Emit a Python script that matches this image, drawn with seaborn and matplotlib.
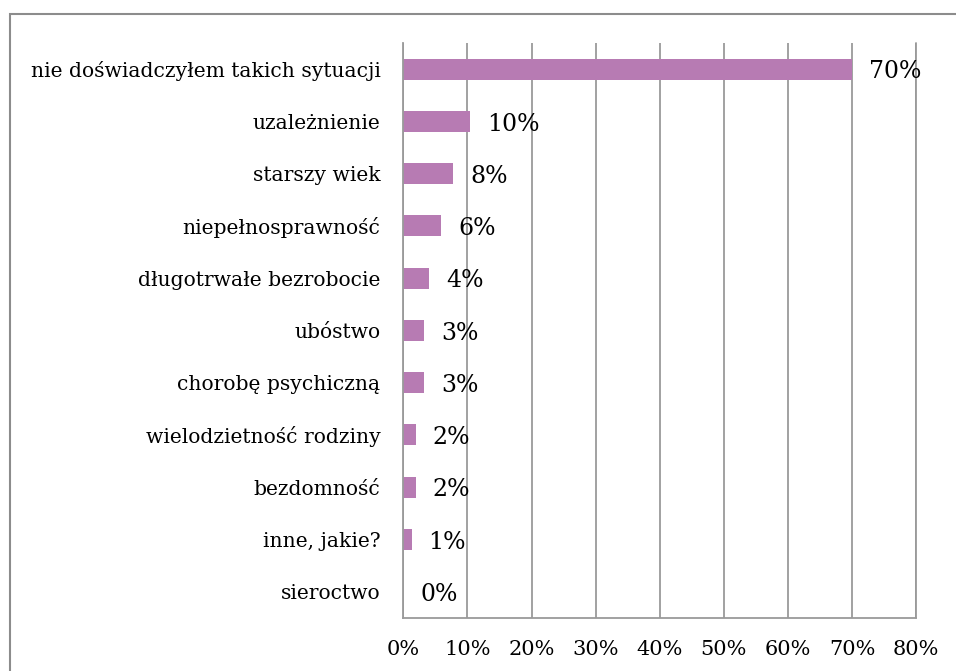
import matplotlib
matplotlib.use("Agg")
import matplotlib.pyplot as plt
import seaborn as sns
import pandas as pd
from matplotlib.patches import Rectangle

# ==========================================
# dane
# ==========================================
categories = [
    "nie doświadczyłem takich sytuacji",
    "uzależnienie",
    "starszy wiek",
    "niepełnosprawność",
    "długotrwałe bezrobocie",
    "ubóstwo",
    "chorobę psychiczną",
    "wielodzietność rodziny",
    "bezdomność",
    "inne, jakie?",
    "sieroctwo",
]
values = [70.0, 10.4, 7.8, 5.9, 4.0, 3.2, 3.2, 1.9, 1.9, 1.3, 0.0]
value_labels = ["70%", "10%", "8%", "6%", "4%", "3%", "3%", "2%", "2%", "1%", "0%"]
x_ticks = [0, 10, 20, 30, 40, 50, 60, 70, 80]
x_tick_labels = [f"{t}%" for t in x_ticks]

BAR_COLOR = "#B77BB3"
GRID_COLOR = "#9A9A9A"

sns.set_theme(style="white")
plt.rcParams["font.family"] = ["DejaVu Serif"]

fig = plt.figure(figsize=(9.56, 6.71), dpi=100)
ax = fig.add_axes([0.4219, 0.0794, 0.5363, 0.8565])

df = pd.DataFrame({"kategoria": categories, "procent": values})
sns.barplot(data=df, x="procent", y="kategoria", color=BAR_COLOR,
            saturation=1, width=0.4, linewidth=0, ax=ax)

ax.set_xlim(0, 80)
ax.set_ylim(len(categories) - 0.5, -0.5)
ax.set_xlabel("")
ax.set_ylabel("")

# siatka pionowa
ax.set_axisbelow(True)
ax.grid(axis="x", color=GRID_COLOR, linewidth=1.3)
ax.grid(axis="y", visible=False)
# ostatnia linia siatki (80%) nie może być przycięta
ax.axvline(80, color=GRID_COLOR, linewidth=1.3, clip_on=False, zorder=0.5)

for side in ["top", "right"]:
    ax.spines[side].set_visible(False)
for side in ["left", "bottom"]:
    ax.spines[side].set_color(GRID_COLOR)
    ax.spines[side].set_linewidth(1.3)

# oś X
ax.set_xticks(x_ticks)
ax.set_xticklabels(x_tick_labels, fontsize=15)
ax.tick_params(axis="x", direction="out", length=5, width=1.3,
               color=GRID_COLOR, pad=11, labelcolor="black")

# oś Y: etykiety w środku, kreski na granicach kategorii
ax.set_yticks(range(len(categories)))
ax.set_yticklabels(categories, fontsize=14.6)
ax.tick_params(axis="y", which="major", length=0, pad=16.5, labelcolor="black")
ax.set_yticks([i - 0.5 for i in range(len(categories) + 1)], minor=True)
ax.tick_params(axis="y", which="minor", direction="out", length=5,
               width=1.3, color=GRID_COLOR)

# etykiety wartości
for i, (v, lbl) in enumerate(zip(values, value_labels)):
    ax.annotate(lbl, xy=(v, i), xytext=(12.2, -2), textcoords="offset points",
                ha="left", va="center", fontsize=17, color="black")

# ramka wokół wykresu
fig.add_artist(Rectangle((9.5 / 956, -0.1), 2.0, 1 - 13.5 / 671 + 0.1,
                         transform=fig.transFigure, fill=False,
                         edgecolor="#8C8C8C", linewidth=1.5))

fig.savefig("out.png", dpi=100)
